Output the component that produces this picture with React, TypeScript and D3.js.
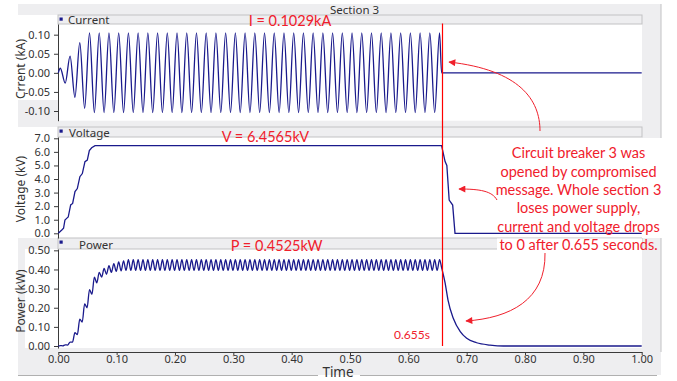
import React, { useEffect, useRef } from 'react';
import * as d3 from 'd3';

const W = 677;
const H = 381;
const AXIS_FONT = '"Noto Sans", "Open Sans", sans-serif';
const RED_FONT = 'Lato, "Noto Sans", sans-serif';
const NAVY = '#1a1a8c';
const RED = '#f0202c';
const GRAY = '#eeeef0';
const EDGE = '#c2c2c4';

// tick values
const timeTicks = [0, 0.1, 0.2, 0.3, 0.4, 0.5, 0.6, 0.7, 0.8, 0.9, 1.0];
const currentTicks = [-0.1, -0.05, 0, 0.05, 0.1];
const voltageTicks = [0, 1, 2, 3, 4, 5, 6, 7];
const powerTicks = [0, 0.1, 0.2, 0.3, 0.4, 0.5];

// breaker opens here (s)
const breakerTime = 0.657;
const breakerLabel = '0.655s';
// 60 Hz supply: one current peak per cycle, two power ripples per cycle
const mainsPeriod = 1 / 60;
const firstPeak = 0.0035;

// current peaks / troughs per cycle (kA)
const currentPeaks = [
  0.012, 0.044, 0.079, 0.105, 0.105, 0.105, 0.105, 0.105, 0.105, 0.105,
  0.105, 0.105, 0.105, 0.105, 0.105, 0.105, 0.105, 0.105, 0.105, 0.105,
  0.105, 0.105, 0.105, 0.105, 0.105, 0.105, 0.105, 0.105, 0.105, 0.105,
  0.105, 0.105, 0.105, 0.105, 0.105, 0.105, 0.105, 0.105, 0.105, 0.105,
];
const currentTroughs = [
  -0.027, -0.064, -0.093, -0.104, -0.104, -0.104, -0.104, -0.104, -0.104, -0.104,
  -0.104, -0.104, -0.104, -0.104, -0.104, -0.104, -0.104, -0.104, -0.104, -0.104,
  -0.104, -0.104, -0.104, -0.104, -0.104, -0.104, -0.104, -0.104, -0.104, -0.104,
  -0.104, -0.104, -0.104, -0.104, -0.104, -0.104, -0.104, -0.104, -0.104,
];

// voltage trace (s, kV)
const voltageTimes = [
  0, 0.006, 0.009, 0.0114, 0.0143, 0.017, 0.0212, 0.0246, 0.0286, 0.0326, 0.037, 0.0412,
  0.0457, 0.0497, 0.0532, 0.0572, 0.063, 0.657, 0.663, 0.666, 0.67, 0.676, 0.68, 1.0,
];
const voltageValues = [
  0, 0.24, 0.37, 0.98, 1.1, 1.2, 2.09, 2.2, 3.07, 3.3, 4.17, 4.4,
  5.28, 5.4, 6.09, 6.3, 6.4565, 6.4565, 5.28, 5.0, 2.45, 2.08, 0, 0,
];

// power ripple peaks / troughs (kW), two per supply cycle
const powerPeaks = [
  0.002, 0.006, 0.02, 0.07, 0.14, 0.22, 0.295, 0.36, 0.385, 0.405,
  0.42, 0.43, 0.44, 0.445, 0.451, 0.451, 0.451, 0.451, 0.451, 0.451,
  0.451, 0.451, 0.451, 0.451, 0.451, 0.451, 0.451, 0.451, 0.451, 0.451,
  0.451, 0.451, 0.451, 0.451, 0.451, 0.451, 0.451, 0.451, 0.451, 0.451,
  0.451, 0.451, 0.451, 0.451, 0.451, 0.451, 0.451, 0.451, 0.451, 0.451,
  0.451, 0.451, 0.451, 0.451, 0.451, 0.451, 0.451, 0.451, 0.451, 0.451,
  0.451, 0.451, 0.451, 0.451, 0.451, 0.451, 0.451, 0.451, 0.451, 0.451,
  0.451, 0.451, 0.451, 0.451, 0.451, 0.451, 0.451, 0.451, 0.451,
];
const powerTroughs = [
  0.001, 0.005, 0.02, 0.06, 0.125, 0.2, 0.27, 0.33, 0.36, 0.375,
  0.385, 0.39, 0.393, 0.395, 0.395, 0.395, 0.395, 0.395, 0.395, 0.395,
  0.395, 0.395, 0.395, 0.395, 0.395, 0.395, 0.395, 0.395, 0.395, 0.395,
  0.395, 0.395, 0.395, 0.395, 0.395, 0.395, 0.395, 0.395, 0.395, 0.395,
  0.395, 0.395, 0.395, 0.395, 0.395, 0.395, 0.395, 0.395, 0.395, 0.395,
  0.395, 0.395, 0.395, 0.395, 0.395, 0.395, 0.395, 0.395, 0.395, 0.395,
  0.395, 0.395, 0.395, 0.395, 0.395, 0.395, 0.395, 0.395, 0.395, 0.395,
  0.395, 0.395, 0.395, 0.395, 0.395, 0.395, 0.395, 0.395,
];
// power decay after the breaker opens
const decayTimes = [0.657, 0.663, 0.668, 0.677, 0.689, 0.7, 0.717, 0.74, 0.763, 1.0];
const decayValues = [0.41, 0.33, 0.24, 0.145, 0.075, 0.04, 0.017, 0.005, 0, 0];

const noteLines = [
  'Circuit breaker 3 was',
  'opened by compromised',
  'message. Whole section 3',
  'loses power supply,',
  'current and voltage drops',
  'to 0 after 0.655 seconds.',
];

// peaks and troughs in order, half a period apart
const waveExtremes = (period: number, peaks: number[], troughs: number[]) => {
  const pts: [number, number][] = [];
  peaks.forEach((p, k) => {
    pts.push([firstPeak + k * period, p]);
    if (k < troughs.length) pts.push([firstPeak + (k + 0.5) * period, troughs[k]]);
  });
  return pts;
};

const x = d3.scaleLinear().domain([0, 1]).range([58.3, 641.7]);
const yCurrent = d3.scaleLinear().domain([-0.1254, 0.128]).range([120.7, 24]);
const yVoltage = d3.scaleLinear().domain([-0.346, 7.096]).range([238, 137]);
const yPower = d3.scaleLinear().domain([-0.0104, 0.507]).range([348, 249]);

const Axis = ({ scale, side, ticks, digits, tx = 0, ty = 0 }: any) => {
  const ref = useRef<SVGGElement>(null);
  useEffect(() => {
    const fmt = (d: any) => d3.format(`.${digits}f`)(d).replace('\u2212', '-');
    const axis = (side === 'left' ? d3.axisLeft(scale) : d3.axisBottom(scale))
      .tickValues(ticks)
      .tickFormat(fmt)
      .tickSizeInner(side === 'left' ? 4 : 3)
      .tickSizeOuter(0)
      .tickPadding(side === 'left' ? 4 : 0);
    const g = d3.select(ref.current as SVGGElement);
    g.call(axis as any);
    g.attr('font-family', AXIS_FONT).attr('font-size', 11);
    g.select('.domain').attr('stroke', '#3a3a3a');
    g.selectAll('.tick line').attr('stroke', '#3a3a3a');
    g.selectAll('.tick text').attr('fill', '#333');
  }, [scale, side, ticks, digits]);
  return <g ref={ref} transform={`translate(${tx},${ty})`} />;
};

const Strip = ({ top, h, label, lx }: any) => (
  <g>
    <rect x={58} y={top} width={584} height={h} fill={GRAY} stroke={EDGE} strokeWidth={1} />
    <rect x={59.5} y={top + 2.5} width={3.2} height={3.2} fill={NAVY} />
    <text x={lx} y={top + h - 0.5} fontFamily={AXIS_FONT} fontSize={11.5} fill="#333">{label}</text>
  </g>
);

const App = () => {
  const currentLine = d3.line<[number, number]>()
    .x((d) => x(d[0]))
    .y((d) => yCurrent(d[1]))
    .curve(d3.curveMonotoneX);
  const voltageLine = d3.line<[number, number]>()
    .x((d) => x(d[0]))
    .y((d) => yVoltage(d[1]));
  const powerLine = d3.line<[number, number]>()
    .x((d) => x(d[0]))
    .y((d) => yPower(d[1]))
    .curve(d3.curveMonotoneX);

  const currentPts: [number, number][] = [
    [0, 0],
    ...waveExtremes(mainsPeriod, currentPeaks, currentTroughs),
    [breakerTime, 0],
    [1, 0],
  ];
  const voltagePts = voltageTimes.map((t, i) => [t, voltageValues[i]] as [number, number]);
  const powerPts: [number, number][] = [
    [0, 0],
    ...waveExtremes(mainsPeriod / 2, powerPeaks, powerTroughs),
    ...decayTimes.map((t, i) => [t, decayValues[i]] as [number, number]),
  ];

  // snap the breaker line to a pixel so it stays bright red
  const bx = Math.round(x(breakerTime)) + 0.5;

  return (
    <div style={{ position: 'fixed', left: 0, top: 0 }}>
      <svg width={W} height={H} style={{ display: 'block', background: '#fff' }}>
        <defs>
          <marker id="head" viewBox="0 0 10 10" refX="9" refY="5" markerWidth="8" markerHeight="7"
            markerUnits="userSpaceOnUse" orient="auto">
            <path d="M0,0 L10,5 L0,10 z" fill={RED} />
          </marker>
        </defs>

        {/* frame */}
        <rect x={18} y={4} width={643} height={371} fill={GRAY} />
        <line x1={661} x2={661} y1={4} y2={352} stroke={EDGE} />
        <rect x={18} y={15} width={40} height={85} fill="#fff" />
        <rect x={15} y={127} width={43} height={111} fill="#fff" />
        <rect x={25} y={249} width={33} height={99} fill="#fff" />
        <text x={330} y={14} fontFamily={AXIS_FONT} fontSize={11.5} fill="#333">Section 3</text>

        {/* plot areas */}
        <rect x={58} y={24} width={584} height={96.7} fill="#fff" />
        <rect x={58} y={137} width={584} height={101} fill="#fff" />
        <rect x={58} y={249} width={584} height={99} fill="#fff" />
        <Strip top={15} h={9} label="Current" lx={68} />
        <Strip top={127} h={10} label="Voltage" lx={69} />
        <Strip top={238} h={11} label="Power" lx={79} />

        {/* note background */}
        <rect x={642} y={138} width={20} height={100} fill="#fff" />
        <rect x={497} y={238.5} width={145} height={12} fill="#fff" />

        {/* axes */}
        <Axis scale={yCurrent} side="left" ticks={currentTicks} digits={2} tx={58} />
        <Axis scale={yVoltage} side="left" ticks={voltageTicks} digits={1} tx={58} />
        <Axis scale={yPower} side="left" ticks={powerTicks} digits={2} tx={58} />
        <Axis scale={x} side="bottom" ticks={timeTicks} digits={2} ty={352} />

        {/* axis titles */}
        <text transform="translate(25,69) rotate(-90)" textAnchor="middle" fontFamily={AXIS_FONT} fontSize={12} fill="#333">Crrent (kA)</text>
        <text transform="translate(25,189) rotate(-90)" textAnchor="middle" fontFamily={AXIS_FONT} fontSize={12} fill="#333">Voltage (kV)</text>
        <text transform="translate(25,301) rotate(-90)" textAnchor="middle" fontFamily={AXIS_FONT} fontSize={12} fill="#333">Power (kW)</text>
        <text x={338} y={377} textAnchor="middle" fontFamily={AXIS_FONT} fontSize={13.5} fill="#333">Time</text>
        <line x1={18} x2={318} y1={375.5} y2={375.5} stroke="#b0b0b0" />
        <line x1={360} x2={657} y1={375.5} y2={375.5} stroke="#b0b0b0" />

        {/* traces */}
        <path d={currentLine(currentPts) || ''} fill="none" stroke={NAVY} strokeWidth={1.3} />
        <path d={voltageLine(voltagePts) || ''} fill="none" stroke={NAVY} strokeWidth={1.3} />
        <path d={powerLine(powerPts) || ''} fill="none" stroke={NAVY} strokeWidth={1.3} />

        {/* breaker marker */}
        <line x1={bx} x2={bx} y1={23.5} y2={yPower(0)} stroke="#ff0000" strokeWidth={1.2} />
        <text x={412} y={339} textAnchor="middle" fontFamily={RED_FONT} fontSize={12} fill={RED}>{breakerLabel}</text>

        {/* readouts */}
        <text x={290} y={26} textAnchor="middle" fontFamily={RED_FONT} fontSize={14.5} fill={RED}>I = 0.1029kA</text>
        <text x={265.5} y={141.5} textAnchor="middle" fontFamily={RED_FONT} fontSize={14.5} fill={RED}>V = 6.4565kV</text>
        <text x={276.7} y={251} textAnchor="middle" fontFamily={RED_FONT} fontSize={14.5} fill={RED}>P = 0.4525kW</text>

        {/* note */}
        {noteLines.map((s, i) => (
          <text key={i} x={578.5} y={158.3 + i * 18.3} textAnchor="middle" fontFamily={RED_FONT} fontSize={14.5} fill={RED}>{s}</text>
        ))}
        <path d="M540,131 C540,100 520,70 449,62" fill="none" stroke={RED} strokeWidth={1} markerEnd="url(#head)" />
        <path d="M497,200 C492,191 480,189 459,189" fill="none" stroke={RED} strokeWidth={1} markerEnd="url(#head)" />
        <path d="M545,253 C546,300 510,318 466,321" fill="none" stroke={RED} strokeWidth={1} markerEnd="url(#head)" />
      </svg>
    </div>
  );
};

export default App;
